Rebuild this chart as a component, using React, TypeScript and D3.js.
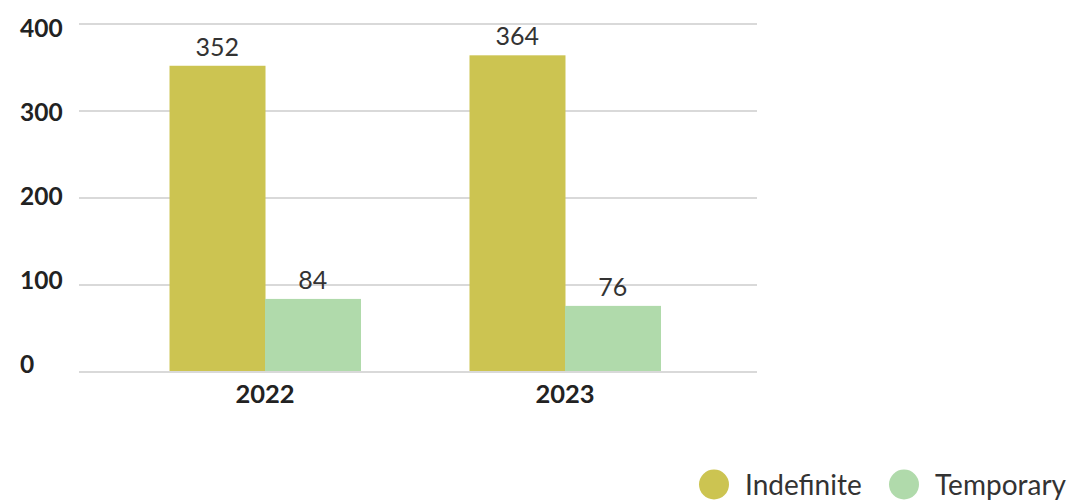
import React from "react";
import * as d3 from "d3";

const years = ["2022", "2023"];
const seriesNames = ["Indefinite", "Temporary"];
const indefinite = [352, 364];
const temporary = [84, 76];
const yTicks = [0, 100, 200, 300, 400];
const colors = ["#CCC451", "#B0DAAB"];

const W = 1075;
const H = 501;
const FONT = "Lato, 'Open Sans', sans-serif";

export default function App() {
  const y = d3.scaleLinear().domain([0, 400]).range([372, 24]);
  // tick labels sit on a slightly tighter spacing than the gridlines
  const yLabel = d3.scaleLinear().domain([0, 400]).range([364, 28.5]);
  const x0 = d3.scaleBand<string>().domain(years).range([115, 715]).paddingInner(0.3633).paddingOuter(0.1817);
  const x1 = d3.scaleBand<string>().domain(seriesNames).range([0, x0.bandwidth()]);
  const values = [indefinite, temporary];

  return (
    <svg width={W} height={H} style={{ position: "absolute", left: 0, top: 0, background: "#fff" }}>
      {yTicks.map((t) => (
        <line key={"g" + t} x1={79} x2={757} y1={y(t)} y2={y(t)} stroke="#d9d9d9" strokeWidth={2} />
      ))}
      {yTicks.map((t) => (
        <text
          key={"l" + t}
          x={20}
          y={yLabel(t)}
          dy="0.36em"
          fontFamily={FONT}
          fontWeight={700}
          fontSize={24.5}
          fill="#222"
        >
          {t}
        </text>
      ))}
      {years.map((yr, i) => (
        <g key={yr} transform={`translate(${x0(yr)},0)`}>
          {seriesNames.map((s, j) => {
            const v = values[j][i];
            const bx = x1(s)!;
            return (
              <g key={s}>
                <rect x={bx} y={y(v)} width={x1.bandwidth() + 0.5} height={y(0) - y(v) - 1} fill={colors[j]} />
                <text
                  x={bx + x1.bandwidth() / 2}
                  y={y(v) - 10}
                  textAnchor="middle"
                  fontFamily={FONT}
                  fontSize={25}
                  fill="#333"
                >
                  {v}
                </text>
              </g>
            );
          })}
          <text
            x={x0.bandwidth() / 2}
            y={394}
            dy="0.36em"
            textAnchor="middle"
            fontFamily={FONT}
            fontWeight={700}
            fontSize={25.5}
            fill="#222"
          >
            {yr}
          </text>
        </g>
      ))}
      {seriesNames.map((s, j) => {
        const cx = [714, 904][j];
        return (
          <g key={"leg" + s}>
            <circle cx={cx} cy={484.5} r={15} fill={colors[j]} />
            <text x={cx + 31} y={484.5} dy="0.36em" fontFamily={FONT} fontSize={28} fill="#333">
              {s}
            </text>
          </g>
        );
      })}
    </svg>
  );
}
